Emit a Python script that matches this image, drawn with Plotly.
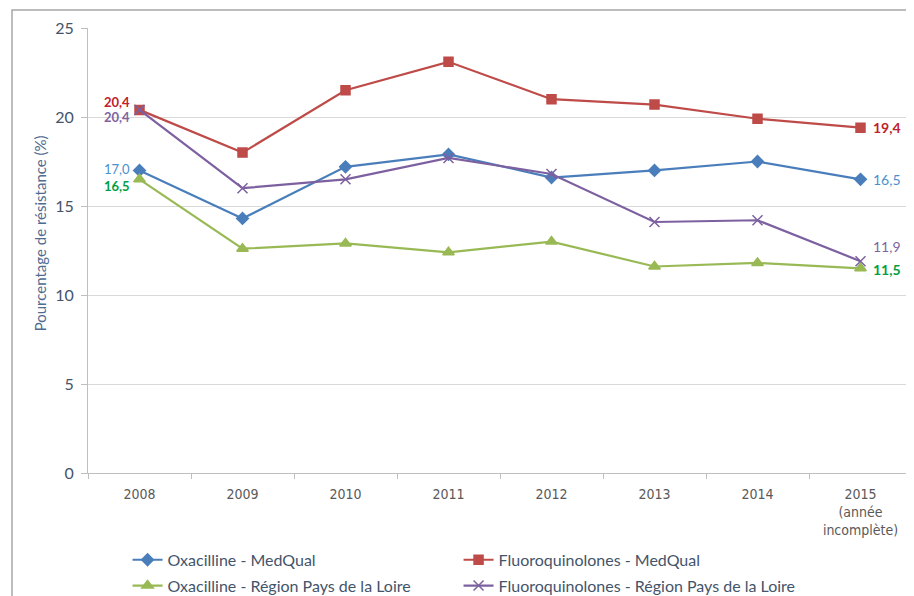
import plotly.graph_objects as go

years = ["2008", "2009", "2010", "2011", "2012", "2013", "2014", "2015"]
year_labels = ["2008", "2009", "2010", "2011", "2012", "2013", "2014", "2015<br>(année<br>incomplète)"]
oxa_medqual = [17.0, 14.3, 17.2, 17.9, 16.6, 17.0, 17.5, 16.5]
fluo_medqual = [20.4, 18.0, 21.5, 23.1, 21.0, 20.7, 19.9, 19.4]
oxa_region = [16.5, 12.6, 12.9, 12.4, 13.0, 11.6, 11.8, 11.5]
fluo_region = [20.4, 16.0, 16.5, 17.7, 16.8, 14.1, 14.2, 11.9]
y_ticks = [0, 5, 10, 15, 20, 25]

FONT = "Lato, Open Sans, sans-serif"
NARROW = "DejaVu Sans Condensed, Lato, sans-serif"
fig = go.Figure()

series = [
    ("Oxacilline - MedQual", oxa_medqual, "#4A7EBB", "diamond", 9, "legend"),
    ("Fluoroquinolones - MedQual", fluo_medqual, "#BE4B48", "square", 9, "legend2"),
    ("Oxacilline - Région Pays de la Loire", oxa_region, "#98B954", "triangle-up", 10, "legend"),
    ("Fluoroquinolones - Région Pays de la Loire", fluo_region, "#7D60A0", "x-thin-open", 10, "legend2"),
]
for i, (name, vals, col, sym, sz, lg) in enumerate(series):
    fig.add_trace(go.Scatter(
        x=years, y=vals, name=name, mode="lines+markers", legend=lg, legendgroup=f"g{i}",
        line=dict(color=col, width=2.2),
        marker=dict(symbol=sym, size=sz, color=col, line=dict(color=col, width=1.5)),
    ))

def fmt(v):
    return f"{v:.1f}".replace(".", ",")

# left labels (first category, index 0)
left = [
    (fluo_medqual[0], "#C0202A", True, 8),
    (fluo_region[0], "#8064A2", True, -7),
    (oxa_medqual[0], "#4A90D0", False, 1),
    (oxa_region[0], "#00A040", True, -7),
]
for v, c, b, ys in left:
    fig.add_annotation(x=0, y=v, text=(f"<b>{fmt(v)}</b>" if b else fmt(v)),
                       showarrow=False, xanchor="right", xshift=-8, yshift=ys,
                       font=dict(family=FONT, size=13, color=c))
# right labels (last category)
right = [
    (oxa_medqual[-1], "#4A90D0", False, 0),
    (fluo_medqual[-1], "#C0202A", True, 0),
    (fluo_region[-1], "#8064A2", False, 15),
    (oxa_region[-1], "#00A040", True, -1),
]
for v, c, b, ys in right:
    fig.add_annotation(x=len(years) - 1, y=v, text=(f"<b>{fmt(v)}</b>" if b else fmt(v)),
                       showarrow=False, xanchor="left", xshift=10, yshift=ys,
                       font=dict(family=FONT, size=14, color=c))

# y-axis title (placed like the original, slightly above centre)
fig.add_annotation(xref="paper", yref="paper", x=-0.058, y=0.539,
                   text="Pourcentage de résistance (%)", textangle=-90, showarrow=False,
                   xanchor="center", yanchor="middle",
                   font=dict(family=FONT, size=15, color="#4F6B8F"))

# outer frame
fig.add_shape(type="rect", xref="paper", yref="paper",
              x0=(12 - 88) / 824, x1=1.05, y0=-0.35, y1=(473 - 10) / 445,
              line=dict(color="#A6A6A6", width=1.5), fillcolor="rgba(0,0,0,0)", layer="below")

legend_font = dict(family=FONT, size=16, color="#44546A")
fig.update_layout(
    width=914, height=596,
    margin=dict(l=80, r=10, t=20, b=131, autoexpand=False),
    paper_bgcolor="white", plot_bgcolor="white",
    font=dict(family=FONT, color="#595959"),
    showlegend=True,
    legend=dict(orientation="v", x=0.048, y=-0.157, xanchor="left", yanchor="top",
                tracegroupgap=2, font=legend_font, itemwidth=30, bgcolor="rgba(0,0,0,0)"),
    legend2=dict(orientation="v", x=0.4497, y=-0.157, xanchor="left", yanchor="top",
                 tracegroupgap=2, font=legend_font, itemwidth=30, bgcolor="rgba(0,0,0,0)"),
    xaxis=dict(
        type="category", range=[-0.5, 7.5], tickvals=years, ticktext=year_labels,
        tickson="boundaries", ticks="outside", ticklen=5, tickcolor="#BFBFBF",
        showline=True, linecolor="#BFBFBF", linewidth=1.2, showgrid=False,
        automargin=False, ticklabelstandoff=8,
        tickfont=dict(family=NARROW, size=14, color="#595959"),
    ),
    yaxis=dict(
        range=[0, 25], tickvals=y_ticks, ticks="outside", ticklen=6, tickcolor="#BFBFBF",
        showline=True, linecolor="#BFBFBF", linewidth=1.2,
        showgrid=True, gridcolor="#D9D9D9", gridwidth=1.2, zeroline=False,
        automargin=False, ticklabelstandoff=4,
        tickfont=dict(family=FONT, size=16, color="#44546A"),
    ),
)

fig.write_html("out.html")
